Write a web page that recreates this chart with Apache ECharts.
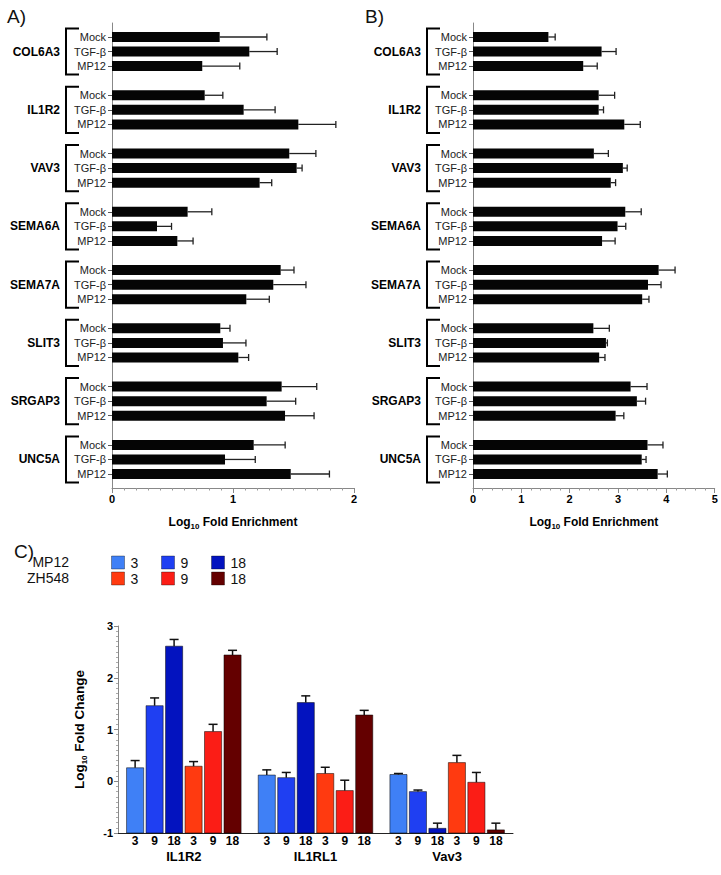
<!DOCTYPE html>
<html><head><meta charset="utf-8">
<script src="https://cdn.jsdelivr.net/npm/echarts@6/dist/echarts.min.js"></script>
<style>html,body{margin:0;padding:0;background:#fff}#c{width:721px;height:875px}</style>
</head><body><div id="c"></div>
<script>
// ---------- data ----------
const genes = ['COL6A3','IL1R2','VAV3','SEMA6A','SEMA7A','SLIT3','SRGAP3','UNC5A'];
const conditions = ['Mock','TGF-β','MP12'];
// Panel A: Log10 fold enrichment [Mock, TGF-β, MP12] per gene
const aMean = [[0.89,1.135,0.746],[0.766,1.088,1.54],[1.465,1.526,1.22],[0.625,0.372,0.54],
               [1.394,1.333,1.11],[0.895,0.917,1.044],[1.402,1.278,1.43],[1.171,0.934,1.477]];
const aErr  = [[0.39,0.23,0.31],[0.15,0.26,0.31],[0.22,0.045,0.10],[0.20,0.12,0.13],
               [0.11,0.27,0.19],[0.08,0.19,0.085],[0.29,0.24,0.24],[0.26,0.25,0.32]];
// Panel B
const bMean = [[1.56,2.66,2.28],[2.60,2.60,3.13],[2.50,3.10,2.85],[3.15,2.99,2.67],
               [3.84,3.62,3.50],[2.49,2.75,2.61],[3.26,3.39,2.95],[3.61,3.49,3.82]];
const bErr  = [[0.14,0.30,0.29],[0.33,0.10,0.33],[0.30,0.09,0.10],[0.33,0.17,0.27],
               [0.34,0.27,0.14],[0.33,0.03,0.12],[0.34,0.18,0.17],[0.32,0.09,0.20]];
const aAxisMax = 2, bAxisMax = 5;
// Panel C: Log10 fold change, per time point, values for [IL1R2, IL1RL1, Vav3]
const cTargets = ['IL1R2','IL1RL1','Vav3'];
const cTimes = ['3','9','18'];
const cViruses = ['MP12','ZH548'];
const cMP12Mean = [[0.26,0.12,0.13],[1.46,0.07,-0.20],[2.61,1.52,-0.91]];
const cMP12Err  = [[0.14,0.10,0.02],[0.15,0.10,0.03],[0.13,0.13,0.10]];
const cZH548Mean = [[0.29,0.15,0.36],[0.96,-0.18,-0.02],[2.44,1.28,-0.94]];
const cZH548Err  = [[0.09,0.12,0.14],[0.14,0.20,0.19],[0.09,0.09,0.13]];
const cColors = ['#3f80f6','#1f3ff2','#0313bf','#ff3a10','#fb1d16','#640000'];

// ---------- helpers ----------
const FONT = 'Liberation Sans, Arial, sans-serif';
const slots = [];
genes.forEach((g, gi) => { conditions.forEach(c => slots.push(c)); if (gi < genes.length - 1) slots.push(''); });
function barData(mean) { const d = slots.map(() => '-'); mean.forEach((row, gi) => row.forEach((v, ci) => { d[gi*4+ci] = v; })); return d; }
function errData(mean, err) { const d = []; mean.forEach((row, gi) => row.forEach((v, ci) => d.push([v, gi*4+ci, err[gi][ci]]))); return d; }
const bracketData = genes.map((g, gi) => [0, gi*4, gi*4+2]);

function errRender(params, api) {
  const v = api.value(0), i = api.value(1), e = api.value(2);
  const p0 = api.coord([v, i]), p1 = api.coord([v + e, i]);
  const st = { stroke: '#222', lineWidth: 1.3 };
  return { type: 'group', children: [
    { type: 'line', shape: { x1: p0[0], y1: p0[1], x2: p1[0], y2: p1[1] }, style: st },
    { type: 'line', shape: { x1: p1[0], y1: p1[1] - 3.5, x2: p1[0], y2: p1[1] + 3.5 }, style: st }
  ]};
}
function bracketRender(params, api) {
  const pt = api.coord([0, api.value(1)]), pb = api.coord([0, api.value(2)]);
  const x0 = pt[0] - 46, x1 = pt[0] - 33, top = pt[1] - 8.5, bot = pb[1] + 8.5;
  return { type: 'group', children: [
    { type: 'polyline', shape: { points: [[x1, top], [x0, top], [x0, bot], [x1, bot]] }, style: { stroke: '#000', lineWidth: 2, fill: null } },
    { type: 'text', style: { text: genes[params.dataIndex], x: pt[0] - 52, y: (top + bot) / 2, align: 'right', verticalAlign: 'middle',
      fontSize: 12, fontWeight: 'bold', fontFamily: FONT, fill: '#000' } }
  ]};
}
const subRich = {
  a: { fontSize: 12, fontWeight: 'bold', fontFamily: FONT, color: '#000', lineHeight: 17 },
  s: { fontSize: 8, fontWeight: 'bold', fontFamily: FONT, color: '#000', lineHeight: 10, verticalAlign: 'bottom' }
};

const grid = [], xAxis = [], yAxis = [], series = [];
function panel(mean, err, left, width, xMax, minorSplit) {
  const gF = grid.length;
  grid.push({ left: left, top: 23, width: width, height: 465 });
  grid.push({ left: left, top: 29.7, width: width, height: 451.6 });
  xAxis.push({ gridIndex: gF, type: 'value', min: 0, max: xMax, interval: 1,
    axisLine: { show: true, lineStyle: { color: '#888', width: 1 } },
    axisTick: { show: true, length: 5, lineStyle: { color: '#888' } },
    minorTick: { show: true, splitNumber: minorSplit, length: 2.5, lineStyle: { color: '#999' } },
    splitLine: { show: false },
    axisLabel: { fontSize: 11, fontWeight: 'bold', color: '#000', fontFamily: FONT, margin: 5 },
    name: '{a|Log}{s|10}{a| Fold Enrichment}', nameLocation: 'middle', nameGap: 25,
    nameTextStyle: { rich: subRich } });
  yAxis.push({ gridIndex: gF, type: 'value', min: 0, max: 1,
    axisLine: { show: true, lineStyle: { color: '#888', width: 1 } },
    axisTick: { show: false }, axisLabel: { show: false }, splitLine: { show: false } });
  xAxis.push({ gridIndex: gF + 1, type: 'value', min: 0, max: xMax, show: false });
  yAxis.push({ gridIndex: gF + 1, type: 'category', data: slots, inverse: true,
    axisLine: { show: false },
    axisTick: { show: true, length: 4, alignWithLabel: true, interval: (i, v) => v !== '', lineStyle: { color: '#555' } },
    axisLabel: { fontSize: 11, color: '#222', fontFamily: FONT, margin: 6, interval: 0 } });
  series.push({ type: 'bar', xAxisIndex: gF + 1, yAxisIndex: gF + 1, data: barData(mean), barWidth: 10,
    itemStyle: { color: '#050505' }, silent: true, animation: false });
  series.push({ type: 'custom', xAxisIndex: gF + 1, yAxisIndex: gF + 1, data: errData(mean, err),
    encode: { x: 0, y: 1 }, renderItem: errRender, silent: true, animation: false });
  series.push({ type: 'custom', xAxisIndex: gF + 1, yAxisIndex: gF + 1, data: bracketData,
    encode: { x: 0, y: 1 }, renderItem: bracketRender, silent: true, animation: false, clip: false });
}
panel(aMean, aErr, 112, 242, aAxisMax, 10);
panel(bMean, bErr, 473, 241.7, bAxisMax, 5);

// Panel C
const gC = grid.length;
grid.push({ left: 118, top: 626, width: 395, height: 207 });
xAxis.push({ gridIndex: gC, type: 'category', data: cTargets,
  axisLine: { show: true, onZero: false, lineStyle: { color: '#222', width: 1 } },
  axisTick: { show: false },
  axisLabel: { fontSize: 13, fontWeight: 'bold', color: '#000', fontFamily: FONT, margin: 17 } });
yAxis.push({ gridIndex: gC, type: 'value', min: -1, max: 3, interval: 1,
  axisLine: { show: true, lineStyle: { color: '#888', width: 1 } },
  axisTick: { show: true, length: 4, lineStyle: { color: '#888' } },
  minorTick: { show: true, splitNumber: 10, length: 2, lineStyle: { color: '#aaa' } },
  splitLine: { show: false },
  axisLabel: { fontSize: 11, fontWeight: 'bold', color: '#000', fontFamily: FONT, margin: 5 },
  name: '{a|Log}{s|10}{a| Fold Change}', nameLocation: 'middle', nameGap: 30,
  nameTextStyle: { rich: { a: Object.assign({}, subRich.a, { fontSize: 13.5 }), s: subRich.s } } });

const cSeriesNames = [];
function cRender(k) {
  return function (params, api) {
    const g = api.value(0), v = api.value(1), e = api.value(2);
    const bw = api.size([1, 0])[0];
    const step = bw * 0.148, w = bw * 0.13;
    const p = api.coord([g, v]);
    const cx = p[0] + (k - 2.5) * step;
    const top = p[1], base = api.coord([g, -1])[1], et = api.coord([g, v + e])[1];
    const st = { stroke: '#111', lineWidth: 1.5 };
    return { type: 'group', children: [
      { type: 'rect', shape: { x: cx - w / 2, y: top, width: w, height: base - top },
        style: { fill: cColors[k], stroke: 'rgba(0,0,0,0.5)', lineWidth: 1 } },
      { type: 'line', shape: { x1: cx, y1: top, x2: cx, y2: et }, style: st },
      { type: 'line', shape: { x1: cx - 4.5, y1: et, x2: cx + 4.5, y2: et }, style: st },
      { type: 'text', style: { text: cTimes[k % 3], x: cx, y: base + 8, align: 'center', verticalAlign: 'middle',
        fontSize: 12, fontWeight: 'bold', fontFamily: FONT, fill: '#000' } }
    ]};
  };
}
cViruses.forEach((vir, vi) => {
  const mean = vi === 0 ? cMP12Mean : cZH548Mean;
  const err = vi === 0 ? cMP12Err : cZH548Err;
  cTimes.forEach((t, ti) => {
    const k = vi * 3 + ti;
    const name = vir + ' ' + t;
    cSeriesNames.push(name);
    series.push({ type: 'custom', name: name, xAxisIndex: gC, yAxisIndex: gC,
      itemStyle: { color: cColors[k] },
      data: cTargets.map((c, ci) => [ci, mean[ti][ci], err[ti][ci]]),
      encode: { x: 0, y: 1 }, renderItem: cRender(k), silent: true, animation: false, clip: false });
  });
});
const legColX = [111, 161, 211], legRowY = [555.5, 571.5];
const legend = cSeriesNames.map((n, k) => ({
  data: [n], left: legColX[k % 3], top: legRowY[Math.floor(k / 3)], orient: 'horizontal',
  icon: 'rect', itemWidth: 13, itemHeight: 13, itemGap: 0, padding: 0, selectedMode: false,
  itemStyle: { borderColor: 'rgba(0,0,0,0.35)', borderWidth: 1 },
  formatter: () => cTimes[k % 3],
  textStyle: { fontSize: 14, color: '#111', fontFamily: FONT, padding: [0, 0, 0, 1] }
}));

const chart = echarts.init(document.getElementById('c'), null, { renderer: 'svg' });
chart.setOption({
  animation: false,
  textStyle: { fontFamily: FONT },
  title: [
    { text: 'A)', left: 2, top: 2, textStyle: { fontSize: 19, fontWeight: 'normal', color: '#111', fontFamily: FONT } },
    { text: 'B)', left: 360, top: 2, textStyle: { fontSize: 19, fontWeight: 'normal', color: '#111', fontFamily: FONT } },
    { text: 'C)', left: 9, top: 537, textStyle: { fontSize: 19, fontWeight: 'normal', color: '#111', fontFamily: FONT } }
  ],
  graphic: [
    { type: 'text', x: 69, y: 562, style: { text: cViruses[0], align: 'right', verticalAlign: 'middle', fontSize: 14, fill: '#111', fontFamily: FONT } },
    { type: 'text', x: 69, y: 578, style: { text: cViruses[1], align: 'right', verticalAlign: 'middle', fontSize: 14, fill: '#111', fontFamily: FONT } }
  ],
  legend: legend,
  grid: grid, xAxis: xAxis, yAxis: yAxis, series: series
});
</script></body></html>
